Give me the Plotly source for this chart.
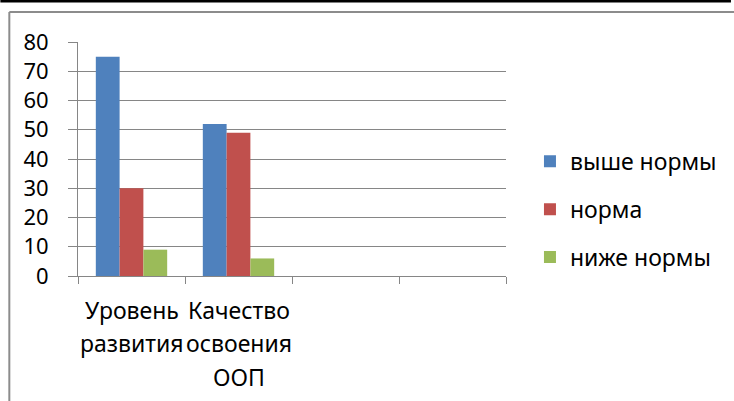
import plotly.graph_objects as go

categories = ["Уровень развития", "Качество освоения ООП", " ", "  "]
label_lines = [["Уровень", "развития"], ["Качество", "освоения", "ООП"], [], []]
series_names = ["выше нормы", "норма", "ниже нормы"]
above = [75, 52, None, None]
norm = [30, 49, None, None]
below = [9, 6, None, None]
colors = ["#4F81BD", "#C0504D", "#9BBB59"]
y_ticks = [0, 10, 20, 30, 40, 50, 60, 70, 80]

FONT = "Noto Sans"
GRID = "#868686"

fig = go.Figure()
for i, (name, vals) in enumerate(zip(series_names, [above, norm, below])):
    fig.add_trace(go.Bar(
        x=categories, y=vals, name=name,
        marker=dict(color=colors[i], line=dict(width=0)),
        legendgroup=f"g{i}",
    ))

annotations = []
line_shifts = [-34, -67, -101]
for cat, lines in zip(categories, label_lines):
    for j, ln in enumerate(lines):
        annotations.append(dict(
            x=cat, xref="x", y=0, yref="paper", yshift=line_shifts[j],
            text=ln, showarrow=False, yanchor="middle", xanchor="center",
            font=dict(family=FONT, size=23, color="#000000"),
        ))

W, H = 734, 401
L, R, T, B = 78, 226, 42, 125
pw, ph = W - L - R, H - T - B
def px(xpix):
    return (xpix - L) / pw
def py(ypix):
    return (H - B - ypix) / ph

shapes = [
    dict(type="line", xref="paper", yref="paper", x0=px(0), x1=px(W), y0=py(1), y1=py(1),
         line=dict(color="#000000", width=3)),
    dict(type="line", xref="paper", yref="paper", x0=px(9), x1=px(W + 10), y0=py(12), y1=py(12),
         line=dict(color="#8C8C8C", width=2)),
    dict(type="line", xref="paper", yref="paper", x0=px(9), x1=px(9), y0=py(12), y1=py(H + 10),
         line=dict(color="#8C8C8C", width=2)),
]

fig.update_layout(
    width=W, height=H,
    margin=dict(l=L, r=R, t=T, b=B, pad=0),
    paper_bgcolor="#FFFFFF", plot_bgcolor="#FFFFFF",
    barmode="group", bargap=0.333, bargroupgap=0,
    font=dict(family=FONT, size=20, color="#000000"),
    showlegend=True,
    legend=dict(
        x=1.056, xanchor="left", y=0.285, yanchor="middle",
        font=dict(family=FONT, size=23, color="#000000"),
        tracegroupgap=15, bgcolor="rgba(0,0,0,0)",
    ),
    annotations=annotations,
    shapes=shapes,
    xaxis=dict(
        type="category", categoryorder="array", categoryarray=categories,
        showticklabels=False, ticks="outside", tickson="boundaries",
        ticklen=7, tickcolor=GRID, tickwidth=1,
        showline=True, linecolor=GRID, linewidth=1,
        showgrid=False, zeroline=False, range=[-0.5, 3.5],
    ),
    yaxis=dict(
        range=[0, 80], tickvals=y_ticks, ticks="outside", ticklen=9,
        tickcolor=GRID, tickwidth=1, showline=True, linecolor=GRID, linewidth=1,
        showgrid=True, gridcolor=GRID, gridwidth=1, zeroline=False,
        tickfont=dict(family=FONT, size=22, color="#000000"),
        ticklabelstandoff=15,
    ),
)

fig.write_html(
    "out.html",
    config={"displayModeBar": False},
    post_script="document.body.style.margin='0';document.body.style.overflow='hidden';",
)
